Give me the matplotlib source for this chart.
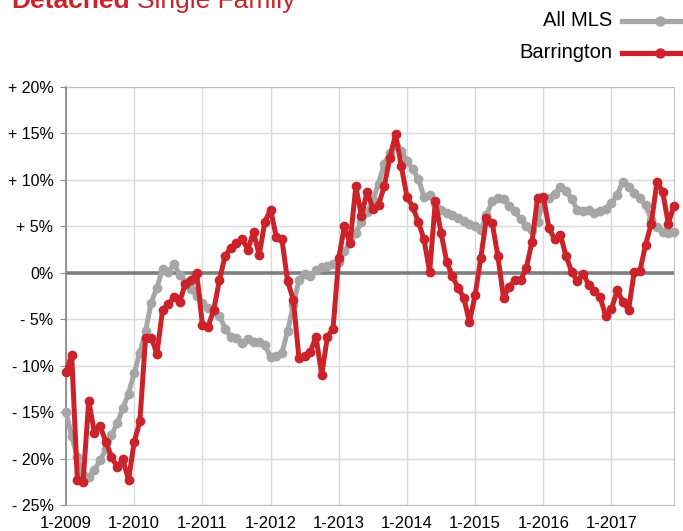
import numpy as np
import matplotlib.pyplot as plt
from matplotlib.lines import Line2D

plt.rcParams['font.family'] = ['Liberation Sans', 'DejaVu Sans']

# monthly % change, Jan 2009 .. Dec 2017
barrington = [
    -10.7, -8.8, -22.3, -22.5, -13.8, -17.2, -16.5, -18.2, -19.8, -20.9, -20.1, -22.3,
    -18.2, -16.0, -7.0, -7.0, -8.7, -4.0, -3.4, -2.6, -3.1, -1.2, -0.8, 0.0,
    -5.6, -5.8, -4.0, -0.8, 1.8, 2.7, 3.2, 3.6, 2.5, 4.4, 1.9, 5.5,
    6.8, 3.9, 3.6, -0.9, -2.9, -9.2, -9.0, -8.5, -6.9, -11.0, -6.9, -6.0,
    1.6, 5.0, 3.2, 9.3, 6.1, 8.75, 6.9, 7.3, 9.3, 12.4, 14.9, 11.5,
    8.2, 7.1, 5.5, 3.6, 0.1, 7.7, 4.3, 1.2, -0.4, -1.6, -2.7, -5.3,
    -2.4, 1.6, 5.9, 5.4, 1.8, -2.7, -1.5, -0.8, -0.8, 0.5, 3.3, 8.1,
    8.2, 4.8, 3.6, 4.1, 1.8, 0.1, -0.9, -0.1, -1.3, -2.0, -2.6, -4.7,
    -3.9, -1.9, -3.1, -4.0, 0.1, 0.2, 3.0, 5.3, 9.8, 8.75, 5.3, 7.2,
]
all_mls = [
    -15.0, -17.6, -19.8, -21.8, -22.0, -21.2, -20.2, -19.0, -17.5, -16.2, -14.6, -13.0,
    -10.8, -8.6, -6.3, -3.2, -1.6, 0.4, 0.1, 0.9, -0.2, -1.0, -1.8, -2.5,
    -3.2, -3.8, -4.1, -4.6, -6.0, -6.9, -7.0, -7.6, -7.1, -7.4, -7.5, -7.8,
    -9.1, -9.0, -8.6, -6.3, -3.5, -0.8, -0.1, -0.4, 0.3, 0.6, 0.7, 0.9,
    1.2, 2.3, 3.2, 4.3, 5.5, 6.5, 7.8, 9.6, 11.7, 12.9, 13.6, 13.1,
    12.0, 11.2, 10.1, 8.2, 8.4, 7.5, 6.8, 6.4, 6.2, 5.9, 5.6, 5.2,
    5.0, 4.6, 6.2, 7.7, 8.1, 7.9, 7.2, 6.6, 5.8, 5.0, 4.6, 5.5,
    7.8, 8.1, 8.5, 9.2, 8.8, 7.9, 6.8, 6.7, 6.8, 6.4, 6.6, 6.9,
    7.5, 8.4, 9.8, 9.2, 8.6, 8.0, 7.3, 5.7, 4.9, 4.4, 4.3, 4.4,
]
year_labels = ["1-2009", "1-2010", "1-2011", "1-2012", "1-2013",
               "1-2014", "1-2015", "1-2016", "1-2017"]
y_ticks = [-25, -20, -15, -10, -5, 0, 5, 10, 15, 20]

RED = '#CC2229'
GRAY = '#A6A6A6'

fig = plt.figure(figsize=(6.83, 5.31), dpi=100)
ax = fig.add_axes([66/683, 1 - 505/531, 608/683, 418/531])

x = np.arange(len(barrington))
ax.plot(x, all_mls, color=GRAY, lw=3.6, marker='o', ms=6, clip_on=False, zorder=3)
ax.plot(x, barrington, color=RED, lw=3.6, marker='o', ms=6, clip_on=False, zorder=4)
ax.axhline(0, color='#7F7F7F', lw=2.6, zorder=2)

ax.set_xlim(0, len(x) - 1)
ax.set_ylim(-25, 20)
ax.set_xticks(np.arange(0, len(x), 12))
ax.set_xticklabels(year_labels)
ax.set_yticks(y_ticks)
ax.set_yticklabels(['+ %d%%' % v if v > 0 else ('0%' if v == 0 else '- %d%%' % -v) for v in y_ticks])
ax.grid(True, color='#DADADA', lw=1)
ax.set_axisbelow(True)
ax.tick_params(axis='x', length=0, labelsize=12, pad=8)
ax.tick_params(axis='y', length=4, color='#8C8C8C', labelsize=11.5, pad=5)
for s in ['top', 'right', 'bottom']:
    ax.spines[s].set_color('#BFBFBF')
ax.spines['left'].set_color('#8C8C8C')
ax.spines['left'].set_linewidth(1.3)

# title (cropped at top in the original)
t1 = fig.text(11/683, 1 - 8/531, 'Detached', color=RED, fontsize=19, weight='bold', va='baseline')
fig.canvas.draw()
bb = t1.get_window_extent()
fig.text(bb.x1/683 + 7/683, 1 - 8/531, 'Single Family', color=RED, fontsize=19, va='baseline')

# legend
for label, col, yp in [('All MLS', GRAY, 21), ('Barrington', RED, 53)]:
    yf = 1 - yp/531
    fig.text(612/683, yf, label, ha='right', va='center', fontsize=14.5)
    fig.add_artist(Line2D([622/683, 1.05], [yf, yf], color=col, lw=3.8, transform=fig.transFigure))
    fig.add_artist(Line2D([660/683], [yf], color=col, marker='o', ms=6.5, transform=fig.transFigure))

fig.savefig('out.png', dpi=100)
